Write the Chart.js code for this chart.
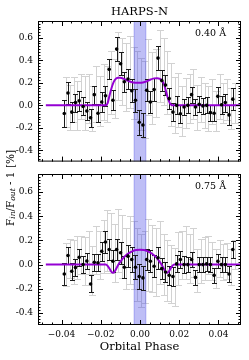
<!DOCTYPE html>
<html><head><meta charset="utf-8">
<script src="https://cdn.jsdelivr.net/npm/chart.js@4"></script>
<style>
body{margin:0;background:#fff;width:249px;height:360px;overflow:hidden;position:relative}
.box{position:absolute;left:0;width:249px}
#top{top:0;height:172px}
#bot{top:130px;height:230px}
</style></head><body>
<div class="box" id="top"><canvas id="c1"></canvas></div>
<div class="box" id="bot"><canvas id="c2"></canvas></div>
<script>
// orbital phase of each exposure
const phase = [-0.0386,-0.0367,-0.0348,-0.0329,-0.0310,-0.0290,-0.0271,-0.0252,-0.0233,-0.0214,-0.0195,-0.0176,-0.0157,-0.0138,-0.0119,-0.0099,-0.0080,-0.0061,-0.0042,-0.0023,-0.0004,0.0015,0.0034,0.0053,0.0072,0.0092,0.0111,0.0130,0.0149,0.0168,0.0187,0.0206,0.0225,0.0244,0.0263,0.0283,0.0302,0.0321,0.0340,0.0359,0.0378,0.0397,0.0416,0.0435,0.0454,0.0473];
const grayPhase = [-0.0377,-0.0358,-0.0339,-0.0320,-0.0301,-0.0281,-0.0262,-0.0243,-0.0224,-0.0205,-0.0186,-0.0167,-0.0148,-0.0129,-0.0110,-0.0090,-0.0071,-0.0052,-0.0033,-0.0014,0.0005,0.0024,0.0043,0.0062,0.0081,0.0101,0.0120,0.0139,0.0158,0.0177,0.0196,0.0215,0.0234,0.0253,0.0272,0.0292,0.0311,0.0330,0.0349,0.0368,0.0387,0.0406,0.0425,0.0444,0.0463,0.0482];

// 0.40 A band
const topVal = [-0.072,0.11,-0.06,0.025,0.04,-0.01,-0.05,-0.11,0.095,-0.07,0.03,0.085,0.32,0.045,0.50,0.37,0.21,0.235,0.13,0.045,-0.15,-0.175,0.135,0.03,0.14,0.42,0.22,0.18,0.06,-0.06,0.0,-0.075,-0.015,0.0,0.095,-0.015,0.01,-0.005,0.0,-0.065,-0.07,0.08,0.005,0.025,-0.085,0.055];
const topErr = [0.12,0.10,0.09,0.08,0.09,0.08,0.08,0.08,0.08,0.08,0.09,0.09,0.09,0.09,0.11,0.10,0.09,0.09,0.10,0.10,0.11,0.11,0.10,0.10,0.10,0.11,0.09,0.09,0.09,0.08,0.08,0.08,0.07,0.07,0.07,0.07,0.07,0.07,0.07,0.07,0.07,0.08,0.08,0.08,0.09,0.10];
const topGray = [0.03,-0.02,0.05,0.0,0.08,0.02,0.06,-0.03,0.1,0.04,0.12,0.1,0.2,0.15,0.35,0.3,0.25,0.3,0.2,0.18,0.1,0.05,0.25,0.15,0.2,0.35,0.3,0.2,0.1,0.0,0.05,-0.05,0.02,0.06,0.1,-0.02,0.05,0.0,-0.03,0.03,-0.05,0.08,0.02,0.05,-0.03,0.02];
const topGrayErr = [0.22,0.2,0.2,0.22,0.2,0.24,0.22,0.2,0.25,0.22,0.25,0.25,0.28,0.26,0.3,0.3,0.3,0.32,0.32,0.3,0.32,0.34,0.34,0.32,0.3,0.32,0.3,0.28,0.28,0.25,0.24,0.22,0.22,0.22,0.22,0.2,0.2,0.2,0.2,0.2,0.18,0.2,0.18,0.18,0.18,0.18];
const topModelX = [-0.048,-0.0175,-0.0165,-0.0155,-0.0145,-0.0135,-0.0125,-0.0112,-0.0100,-0.0085,-0.0065,-0.0045,-0.0025,-0.0005,0.0015,0.0035,0.0055,0.0072,0.0088,0.0102,0.0112,0.0122,0.0132,0.0142,0.0152,0.0160,0.0168,0.052];
const topModelY = [0,0,0.02,0.09,0.155,0.205,0.233,0.245,0.246,0.238,0.222,0.208,0.201,0.2,0.203,0.214,0.23,0.24,0.242,0.235,0.22,0.19,0.13,0.065,0.02,0.004,0,0];

// 0.75 A band
const botVal = [-0.078,0.075,-0.055,-0.025,0.06,0.0,0.03,-0.16,0.02,0.015,0.11,0.187,0.125,0.028,0.125,0.098,-0.022,0.07,0.042,-0.022,-0.098,-0.11,0.042,0.028,-0.014,0.056,-0.033,-0.061,-0.089,-0.098,0.006,0.042,0.0,0.0,0.042,-0.106,0.0,0.0,0.006,0.0,-0.089,0.028,0.0,0.0,-0.078,0.125];
const botErr = [0.09,0.07,0.07,0.07,0.07,0.07,0.07,0.07,0.07,0.07,0.08,0.09,0.09,0.09,0.09,0.09,0.09,0.09,0.1,0.1,0.1,0.1,0.09,0.09,0.09,0.09,0.09,0.08,0.08,0.08,0.07,0.07,0.07,0.06,0.06,0.06,0.06,0.06,0.06,0.06,0.06,0.06,0.06,0.06,0.07,0.07];
const botGray = [0.0,0.05,0.02,0.06,0.08,0.03,0.1,-0.05,0.12,0.08,0.15,0.2,0.18,0.1,0.2,0.15,0.05,0.12,0.08,0.0,-0.05,-0.02,0.08,0.05,0.02,0.1,0.0,-0.05,-0.08,-0.1,0.05,0.08,0.1,0.05,0.1,-0.05,0.03,0.05,0.08,0.03,-0.03,0.05,0.02,0.03,-0.02,0.08];
const botGrayErr = [0.18,0.16,0.18,0.18,0.16,0.2,0.18,0.2,0.2,0.2,0.22,0.25,0.25,0.24,0.26,0.26,0.25,0.28,0.28,0.3,0.3,0.3,0.3,0.28,0.28,0.26,0.25,0.25,0.24,0.24,0.22,0.2,0.22,0.2,0.2,0.18,0.18,0.18,0.16,0.16,0.16,0.15,0.15,0.15,0.15,0.12];
const botModelX = [-0.048,-0.0175,-0.0165,-0.0155,-0.0145,-0.0138,-0.013,-0.012,-0.011,-0.0095,-0.0078,-0.006,-0.004,-0.002,0,0.002,0.004,0.006,0.0078,0.0095,0.011,0.012,0.013,0.0138,0.0145,0.0155,0.0165,0.0175,0.052];
const botModelY = [0,0,-0.01,-0.035,-0.06,-0.068,-0.06,-0.03,0.0,0.035,0.068,0.092,0.11,0.12,0.123,0.12,0.11,0.092,0.068,0.035,0.0,-0.03,-0.06,-0.068,-0.06,-0.035,-0.01,0,0];

const xTicks = [-0.04,-0.02,0,0.02,0.04];
const yTicks = [-0.4,-0.2,0,0.2,0.4,0.6];
const band = [-0.003,0.003];

const FONT = 'DejaVu Serif';
const pts = (xs, ys) => xs.map((x,i)=>({x:x, y:ys[i]}));

function drawErr(chart, ds){
    const ctx = chart.ctx, x = chart.scales.x, y = chart.scales.y;
    ctx.strokeStyle = ds.errColor; ctx.lineWidth = 1;
    ds.data.forEach((p,i)=>{
        const px = Math.round(x.getPixelForValue(p.x)) + 0.5;
        const y1 = Math.round(y.getPixelForValue(p.y + ds.err[i])) + 0.5;
        const y2 = Math.round(y.getPixelForValue(p.y - ds.err[i])) + 0.5;
        ctx.beginPath();
        ctx.moveTo(px,y1); ctx.lineTo(px,y2);
        ctx.moveTo(px-ds.cap,y1); ctx.lineTo(px+ds.cap,y1);
        ctx.moveTo(px-ds.cap,y2); ctx.lineTo(px+ds.cap,y2);
        ctx.stroke();
    });
}

const panelPlugin = {
    id: 'panel',
    beforeDatasetsDraw(chart){
        const ctx = chart.ctx, a = chart.chartArea, x = chart.scales.x;
        ctx.save();
        ctx.beginPath(); ctx.rect(a.left, a.top, a.right-a.left, a.bottom-a.top); ctx.clip();
        chart.data.datasets.filter(d=>d.gray).forEach(d=>drawErr(chart,d));
        // transit mid band
        const b0 = x.getPixelForValue(band[0]), b1 = x.getPixelForValue(band[1]);
        ctx.fillStyle = 'rgba(70,70,230,0.35)';
        ctx.fillRect(b0, a.top, b1-b0, a.bottom-a.top);
        ctx.strokeStyle = 'rgba(70,70,230,0.35)';
        ctx.strokeRect(b0, a.top-1, b1-b0, a.bottom-a.top+2);
        chart.data.datasets.filter(d=>d.err && !d.gray).forEach(d=>drawErr(chart,d));
        ctx.restore();
    },
    afterDraw(chart){
        const ctx = chart.ctx, a = chart.chartArea, x = chart.scales.x, y = chart.scales.y;
        const o = chart.options.plugins.panel;
        ctx.save();
        ctx.strokeStyle = '#000'; ctx.lineWidth = 1;
        ctx.strokeRect(a.left+0.5, a.top+0.5, a.right-a.left-1, a.bottom-a.top-1);
        ctx.beginPath();
        for (let v = -0.05; v <= 0.0501; v += 0.005){
            const px = Math.round(x.getPixelForValue(v)) + 0.5;
            if (px < a.left || px > a.right) continue;
            const L = xTicks.some(t=>Math.abs(t-v)<1e-6) ? 5 : 2.5;
            ctx.moveTo(px,a.bottom); ctx.lineTo(px,a.bottom-L);
            ctx.moveTo(px,a.top); ctx.lineTo(px,a.top+L);
        }
        for (let v = -0.5; v <= 0.7501; v += 0.025){
            const py = Math.round(y.getPixelForValue(v)) + 0.5;
            if (py < a.top+1 || py > a.bottom-1) continue;
            const L = yTicks.some(t=>Math.abs(t-v)<1e-6) ? 5 : 2.5;
            ctx.moveTo(a.left,py); ctx.lineTo(a.left+L,py);
            ctx.moveTo(a.right,py); ctx.lineTo(a.right-L,py);
        }
        ctx.stroke();
        ctx.fillStyle = '#000';
        ctx.font = '9.5px "' + FONT + '"';
        ctx.textAlign = 'right'; ctx.textBaseline = 'middle';
        ctx.fillText(o.label, a.right-15, a.top+13);
        if (o.title){
            ctx.font = '11.5px "' + FONT + '"'; ctx.textAlign = 'center';
            ctx.fillText(o.title, (a.left+a.right)/2, 12);
        }
        if (o.xtitle){
            ctx.font = '11.5px "' + FONT + '"'; ctx.textAlign = 'center';
            ctx.fillText(o.xtitle, (a.left+a.right)/2, a.bottom+22);
        }
        if (o.ylabel){
            // F_in/F_out - 1 [%]
            const parts = [['F',0],['in',1],['/F',0],['out',1],[' - 1 [%]',0]];
            const big = '10.5px "' + FONT + '"', small = 'italic 7.5px "' + FONT + '"';
            let w = 0;
            parts.forEach(p=>{ctx.font = p[1]?small:big; w += ctx.measureText(p[0]).width;});
            ctx.translate(11, o.ylabel); ctx.rotate(-Math.PI/2);
            ctx.textAlign = 'left';
            let cx = -w/2;
            parts.forEach(p=>{
                ctx.font = p[1]?small:big;
                ctx.fillText(p[0], cx, p[1]?2.5:0);
                cx += ctx.measureText(p[0]).width;
            });
        }
        ctx.restore();
    }
};

function panel(id, vals, errs, gray, grayErr, mx, my, opts){
    return new Chart(document.getElementById(id), {
        type: 'scatter',
        data: {datasets: [
            {data: pts(grayPhase, gray), err: grayErr, gray: true, errColor: '#d2d2d2', cap: 3.5, pointRadius: 0},
            {data: pts(phase, vals), err: errs, errColor: '#1a1a1a', cap: 2.5, pointRadius: 1.8,
             backgroundColor: '#000', borderColor: '#000', borderWidth: 0},
            {data: pts(mx, my), showLine: true, borderColor: '#9400d3', borderWidth: 2, pointRadius: 0,
             cubicInterpolationMode: 'monotone'}
        ]},
        options: {
            responsive: true, maintainAspectRatio: false, animation: false,
            layout: {padding: {left: 0, right: 8, top: opts.padTop, bottom: 0}},
            plugins: {legend: {display: false}, tooltip: {enabled: false}, panel: opts},
            scales: {
                x: {min: -0.052, max: 0.0515,
                    afterBuildTicks: s=>{s.ticks = xTicks.map(v=>({value:v}));},
                    afterFit: s=>{s.height = opts.xh;},
                    grid: {display: false, drawTicks: false}, border: {display: false},
                    ticks: {display: opts.xlabels, padding: 4, color: '#000', font: {family: FONT, size: 9},
                            callback: v => (v < -1e-9 ? '\u2212' : '') + Math.abs(v).toFixed(2)}},
                y: {min: -0.5, max: 0.75,
                    afterBuildTicks: s=>{s.ticks = yTicks.map(v=>({value:v}));},
                    afterFit: s=>{s.width = 38;},
                    grid: {display: false, drawTicks: false}, border: {display: false},
                    ticks: {padding: 5, color: '#000', font: {family: FONT, size: 9},
                            callback: v => (Math.abs(v) < 1e-9 ? 0 : v).toFixed(1)}}
            }
        },
        plugins: [panelPlugin]
    });
}

panel('c1', topVal, topErr, topGray, topGrayErr, topModelX, topModelY,
      {padTop: 21, xh: 2, xlabels: false, label: '0.40 \u00c5', title: 'HARPS-N'});
panel('c2', botVal, botErr, botGray, botGrayErr, botModelX, botModelY,
      {padTop: 44, xh: 35, xlabels: true, label: '0.75 \u00c5', xtitle: 'Orbital Phase', ylabel: 58});
</script>
</body></html>
